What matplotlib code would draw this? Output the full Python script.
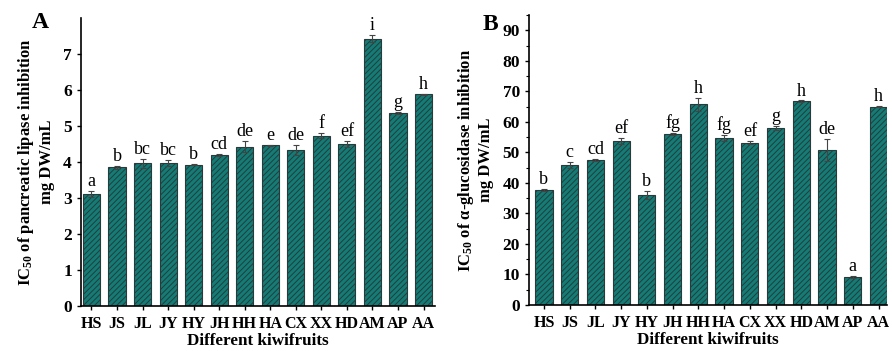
import numpy as np
import matplotlib
matplotlib.use('Agg')
import matplotlib.pyplot as plt
from matplotlib.ticker import MultipleLocator

plt.rcParams['font.family'] = ['Liberation Serif', 'DejaVu Serif']
plt.rcParams['font.weight'] = 'bold'
plt.rcParams['mathtext.fontset'] = 'custom'
plt.rcParams['mathtext.rm'] = 'Liberation Serif'
plt.rcParams['mathtext.bf'] = 'Liberation Serif:bold'
plt.rcParams['mathtext.it'] = 'Liberation Serif:italic'
plt.rcParams['hatch.color'] = '#0c4e49'
plt.rcParams['hatch.linewidth'] = 0.7

fruits = ['HS', 'JS', 'JL', 'JY', 'HY', 'JH', 'HH', 'HA', 'CX', 'XX', 'HD', 'AM', 'AP', 'AA']

lipase = [3.12, 3.85, 3.96, 3.98, 3.93, 4.20, 4.43, 4.46, 4.33, 4.73, 4.50, 7.43, 5.35, 5.88]
lipase_err = [0.08, 0.05, 0.12, 0.08, 0.02, 0.03, 0.16, 0.02, 0.13, 0.07, 0.08, 0.10, 0.03, 0.01]
lipase_sig = ['a', 'b', 'bc', 'bc', 'b', 'cd', 'de', 'e', 'de', 'f', 'ef', 'i', 'g', 'h']

gluco = [37.7, 46.0, 47.5, 53.8, 36.0, 56.0, 65.7, 54.8, 53.2, 58.0, 66.8, 50.8, 9.2, 65.0]
gluco_err = [0.3, 1.0, 0.3, 1.0, 1.3, 0.3, 2.0, 1.0, 0.5, 0.8, 0.2, 3.5, 0.2, 0.3]
gluco_sig = ['b', 'c', 'cd', 'ef', 'b', 'fg', 'h', 'fg', 'ef', 'g', 'h', 'de', 'a', 'h']

bar_color = '#127d77'

fig = plt.figure(figsize=(8.92, 3.51), dpi=100)
W, H = 892, 351
axA = fig.add_axes([81 / W, 1 - 306 / H, (435 - 81) / W, (306 - 18) / H])
axB = fig.add_axes([529 / W, 1 - 305 / H, (887 - 529) / W, (305 - 15) / H])


def draw(ax, vals, errs, sigs, ylim, xlim, label, off):
    x = np.arange(len(fruits))
    ax.bar(x, vals, width=0.67, color=bar_color, edgecolor='#2a3a3a',
           linewidth=0.8, hatch='//////')
    ax.errorbar(x, vals, yerr=errs, fmt='none', ecolor='#444444',
                elinewidth=0.8, capsize=2.5, capthick=0.8)
    for xi, v, e, s in zip(x, vals, errs, sigs):
        ax.text(xi, v + e + off, s, ha='center', va='bottom',
                fontsize=13, fontweight='normal')
    ax.set_xlim(*xlim)
    ax.set_ylim(*ylim)
    ax.set_xticks(x)
    ax.set_xticklabels(fruits, fontsize=11.5, fontweight='bold')
    ax.set_xlabel('Different kiwifruits', fontsize=12.3, fontweight='bold', labelpad=1)
    ax.set_ylabel(label, fontsize=12, fontweight='bold', labelpad=6)
    for sp in ['top', 'right']:
        ax.spines[sp].set_visible(False)
    ax.spines['left'].set_linewidth(1.2)
    ax.spines['bottom'].set_linewidth(1.2)
    ax.tick_params(axis='both', direction='out', length=3, width=1)
    ax.tick_params(axis='y', labelsize=12.5)
    ax.tick_params(axis='x', pad=4)
    for t in ax.get_yticklabels():
        t.set_fontweight('bold')


draw(axA, lipase, lipase_err, lipase_sig, (0, 8.0), (-0.41, 13.45),
     'IC$_{\\mathbf{50}}$ of pancreatic lipase inhibition\nmg DW/mL', 0.03)
axA.set_yticks(range(0, 8))

draw(axB, gluco, gluco_err, gluco_sig, (0, 95), (-0.58, 13.33),
     'IC$_{\\mathbf{50}}$ of α-glucosidase inhibition\nmg DW/mL', 0.3)
axB.set_yticks(range(0, 91, 10))
axB.yaxis.set_minor_locator(MultipleLocator(5))
axB.tick_params(axis='y', which='minor', length=2, width=0.8)

fig.text(40 / W, 1 - 23 / H, 'A', fontsize=17, fontweight='bold', ha='center', va='center')
fig.text(490 / W, 1 - 25 / H, 'B', fontsize=17, fontweight='bold', ha='center', va='center')

fig.savefig('out.png', dpi=100)
